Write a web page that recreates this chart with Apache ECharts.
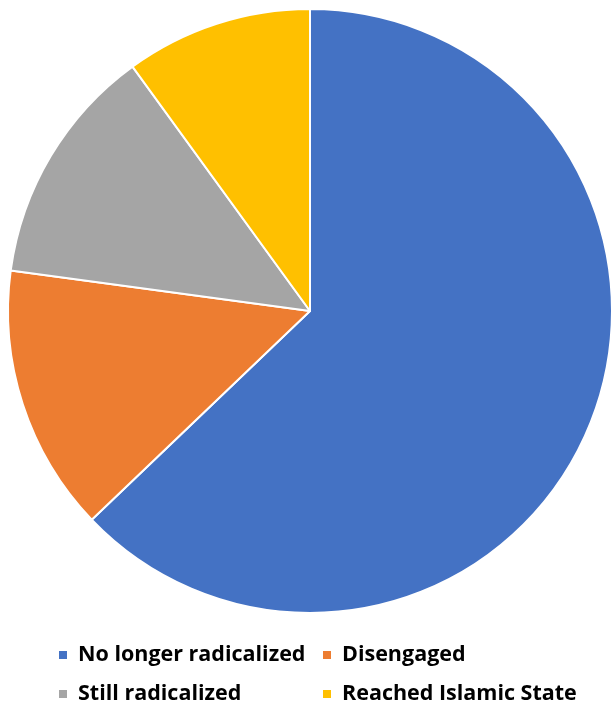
<!DOCTYPE html>
<html><head><meta charset="utf-8">
<script src="https://cdn.jsdelivr.net/npm/echarts@6/dist/echarts.min.js"></script>
<style>html,body{margin:0;padding:0;background:#fff}#c{width:611px;height:708px}</style>
</head><body><div id="c"></div>
<script>
const categories = ["No longer radicalized", "Disengaged", "Still radicalized", "Reached Islamic State"];
const values = [44, 10, 9, 7];
const colors = ["#4472C4", "#ED7D31", "#A5A5A5", "#FFC000"];
const legendPos = [[57, 643], [321, 643], [57, 682], [321, 682]];

const chart = echarts.init(document.getElementById('c'), null, {renderer: 'canvas'});
const legends = categories.map((name, i) => ({
  left: legendPos[i][0], top: legendPos[i][1], padding: 0,
  icon: 'rect', itemWidth: 10, itemHeight: 10, selectedMode: false,
  data: [name],
  textStyle: {fontFamily: 'Open Sans', fontWeight: 'bold', fontSize: 21.5, lineHeight: 24, color: '#000', padding: [0, 0, 0, 5]}
}));
chart.setOption({
  animation: false,
  color: colors,
  legend: legends,
  series: [{
    type: 'pie', center: [310, 311], radius: 302, startAngle: 90, clockwise: true,
    label: {show: false}, labelLine: {show: false}, silent: true,
    itemStyle: {borderColor: '#fff', borderWidth: 2},
    data: categories.map((n, i) => ({name: n, value: values[i]}))
  }]
});
</script></body></html>
